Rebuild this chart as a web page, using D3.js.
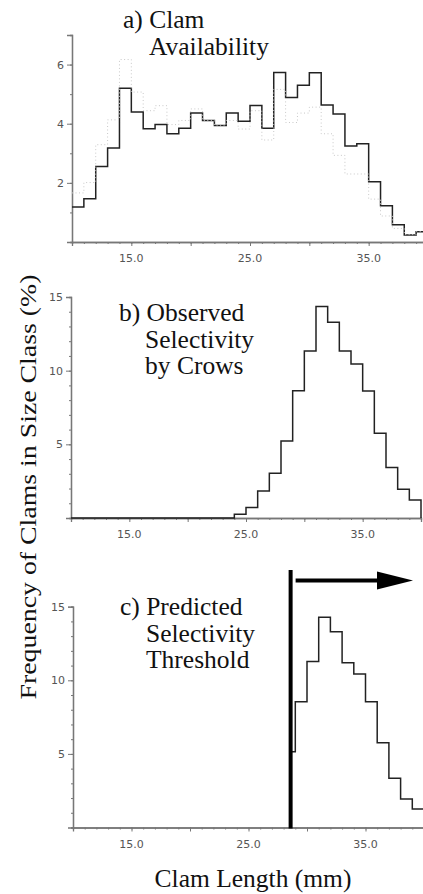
<html>
<head>
  <meta charset="utf-8" />
  <title>Clam Size Selectivity</title>
  <script src="https://d3js.org/d3.v7.min.js"></script>
</head>
<style>
  body { margin: 0; background: #fff; }
  svg { display: block; }
  .serif { font-family: "Liberation Serif", "Times New Roman", Times, serif; }
</style>
<body>
<svg id="chart" width="423" height="894"></svg>
<script>

// clam length size classes (mm), 1 mm bins
const binStarts = [10,11,12,13,14,15,16,17,18,19,20,21,22,23,24,25,26,27,28,29,30,31,32,33,34,35,36,37,38,39]

// a) availability (%), solid and dotted samples
const availSolid = [1.18,1.46,2.55,3.18,5.2,4.4,3.83,3.97,3.66,3.85,4.36,4.11,3.94,4.36,4.08,4.62,3.85,5.73,4.89,5.3,5.72,4.63,4.33,3.25,3.32,2.04,1.23,0.58,0.24,0.35]
const availDotted = [1.66,2.01,3.29,4.13,6.17,5.07,4.44,4.61,3.97,4.11,4.5,4.11,3.95,4.11,3.82,4.44,3.45,5.16,4.04,4.36,4.56,3.66,2.93,2.3,2.3,1.45,0.88,0.46,0.25,0.35]

// b) observed selectivity by crows (%)
const observed = [0,0,0,0,0,0,0,0,0,0,0,0,0,0,0.25,0.72,1.83,3.03,5.23,8.64,11.34,14.35,13.28,11.34,10.45,8.62,5.75,3.42,1.95,1.22]

// c) predicted (%), above threshold
const predicted = [0,0,0,0,0,0,0,0,0,0,0,0,0,0,0,0,0,0,5.15,8.55,11.27,14.28,13.3,11.2,10.43,8.55,5.76,3.34,1.94,1.26]
const threshold = 28.6

const xTicks = [15, 25, 35]

const panels = [
  { data: [availSolid, availDotted], yMax: 7, yLabels: [2, 4, 6], x0: 72, x1: 428, y0: 242, yTop: 35,
    title: ["a) Clam", "Availability"], tx: 123, ty: 28, dropEnd: false },
  { data: [observed], yMax: 15, yLabels: [5, 10, 15], x0: 71, x1: 421, y0: 518, yTop: 297,
    title: ["b) Observed", "Selectivity", "by Crows"], tx: 119, ty: 321, dropEnd: true },
  { data: [predicted], yMax: 15, yLabels: [5, 10, 15], x0: 73, x1: 424, y0: 827.5, yTop: 606.7,
    title: ["c) Predicted", "Selectivity", "Threshold"], tx: 120, ty: 615, dropEnd: false, threshold: threshold }
]

const svg = d3.select("#chart")
const sans = "'DejaVu Sans', sans-serif"

panels.forEach(p => {
  const x = d3.scaleLinear().domain([10, 40]).range([p.x0, p.x1])
  const y = d3.scaleLinear().domain([0, p.yMax]).range([p.y0, p.yTop])
  const g = svg.append("g")

  // minor and major ticks
  const xAxis = d3.axisBottom(x).tickValues(d3.range(10, 41, 1)).tickSize(2).tickFormat("")
  g.append("g").attr("transform", `translate(0,${p.y0})`).call(xAxis)
  const xMajor = d3.axisBottom(x).tickValues([15, 20, 25, 30, 35]).tickSize(4).tickFormat("")
  g.append("g").attr("transform", `translate(0,${p.y0})`).call(xMajor)
  const yAxis = d3.axisLeft(y).tickValues(d3.range(0, p.yMax + 1, 1)).tickSize(2).tickFormat("")
  g.append("g").attr("transform", `translate(${p.x0},0)`).call(yAxis)
  const yMajor = d3.axisLeft(y).tickValues(p.yLabels).tickSize(5).tickFormat("")
  g.append("g").attr("transform", `translate(${p.x0},0)`).call(yMajor)

  g.selectAll(".domain").attr("stroke", "#777").attr("stroke-width", 1.3)
  g.selectAll(".tick line").attr("stroke", "#777").attr("stroke-width", 1)

  g.selectAll("text.xl")
    .data(xTicks)
    .enter().append("text")
    .attr("x", d => x(d))
    .attr("y", p.y0 + 20)
    .attr("text-anchor", "middle")
    .style("font-family", sans)
    .style("font-size", "11px")
    .style("fill", "#555")
    .text(d => d.toFixed(1))

  g.selectAll("text.yl")
    .data(p.yLabels)
    .enter().append("text")
    .attr("x", p.x0 - 8)
    .attr("y", d => y(d) + 4)
    .attr("text-anchor", "end")
    .style("font-family", sans)
    .style("font-size", "11px")
    .style("fill", "#555")
    .text(d => d)

  // step lines
  p.data.forEach((vals, i) => {
    const pts = []
    const start = p.threshold || 10
    binStarts.forEach((b, k) => {
      if (b + 1 <= start) return
      const bx = Math.max(b, start)
      pts.push([x(bx), y(vals[k])])
      pts.push([x(b + 1), y(vals[k])])
    })
    if (p.dropEnd) pts.push([x(40), y(0)])
    g.append("path")
      .attr("d", d3.line()(pts))
      .attr("fill", "none")
      .attr("stroke", i === 0 ? "#222" : "#c8c8c8")
      .attr("stroke-width", i === 0 ? 1.5 : 1)
      .attr("stroke-dasharray", i === 0 ? null : "1,2.5")
  })

  if (p.threshold) {
    g.append("line")
      .attr("x1", x(p.threshold)).attr("x2", x(p.threshold))
      .attr("y1", 570).attr("y2", p.y0 + 1)
      .attr("stroke", "#000").attr("stroke-width", 4)
    g.append("line")
      .attr("x1", x(p.threshold) + 5).attr("x2", 380)
      .attr("y1", 580.5).attr("y2", 580.5)
      .attr("stroke", "#000").attr("stroke-width", 4)
    g.append("path")
      .attr("d", "M377,571.5 L413,580.5 L377,589.5 Z")
      .attr("fill", "#000")
  }

  const t = g.append("text")
    .attr("class", "serif")
    .style("font-size", "25.5px")
    .style("fill", "#111")
  p.title.forEach((line, j) => {
    t.append("tspan")
      .attr("x", j === 0 ? p.tx : p.tx + 26)
      .attr("y", p.ty + j * 26.5)
      .text(line)
  })
})

svg.append("text")
  .attr("class", "serif")
  .attr("transform", "translate(36,487) rotate(-90)")
  .attr("text-anchor", "middle")
  .attr("textLength", 425)
  .attr("lengthAdjust", "spacingAndGlyphs")
  .style("font-size", "24px")
  .style("fill", "#111")
  .text("Frequency of Clams in Size Class (%)")

svg.append("text")
  .attr("class", "serif")
  .attr("x", 253)
  .attr("y", 887)
  .attr("text-anchor", "middle")
  .style("font-size", "25.5px")
  .style("fill", "#111")
  .text("Clam Length (mm)")

</script>
</body>
</html>
